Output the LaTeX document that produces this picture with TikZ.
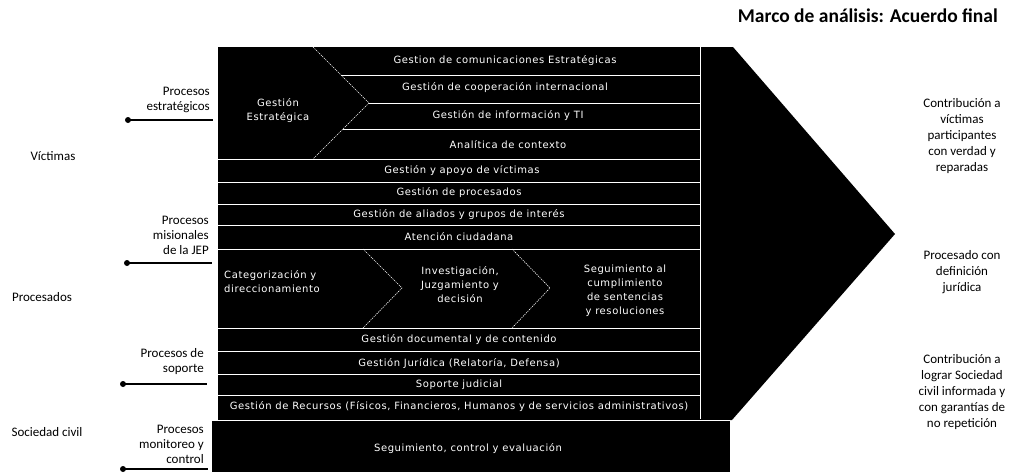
\documentclass[tikz,border=0pt]{standalone}
\usepackage{fontspec}
\setmainfont{Carlito}
\newfontfamily\innerfont[LetterSpace=6]{DejaVu Sans}
\begin{document}
\begin{tikzpicture}[x=1pt,y=-1pt,
  sep/.style={draw=white, line width=0.7pt},
  chev/.style={draw=white, line width=0.6pt, dash pattern=on 1.2pt off 1pt},
  rowtxt/.style={text=white, font=\innerfont\fontsize{10}{14}\selectfont, inner sep=0, align=center},
  lbl/.style={font=\fontsize{13}{15}\selectfont, align=right, anchor=east, inner sep=0},
  side/.style={font=\fontsize{13}{15}\selectfont, inner sep=0},
  outlbl/.style={font=\fontsize{13}{16.2}\selectfont, align=center, inner sep=0},
  leader/.style={line width=1.6pt},
  dotc/.style={circle, fill=black, minimum size=6pt, inner sep=0}]
\useasboundingbox (0,0) rectangle (1011,475);
% title
\node[anchor=east, inner sep=0, font=\bfseries\fontsize{19.5}{20}\selectfont] (title) at (998,16) {Marco de análisis: Acuerdo final};
% main block and arrow
\fill[black] (218,47) -- (733,47) -- (895,234) -- (732,420) -- (218,420) -- cycle;
\fill[black] (212,421) rectangle (730,472);
\draw[sep] (700,47) -- (700,419);
\draw[sep] (212,420.5) -- (730,420.5);
% strategic chevron
\draw[chev] (313,47) -- (369,103) -- (313,159);
\draw[sep] (341,75) -- (700,75);
\draw[sep] (369,103) -- (700,103);
\draw[sep] (342.5,129) -- (700,129);
% full row separators
\foreach \yy in {159,182,204,225,249,328,351,374,395} {\draw[sep] (218,\yy) -- (700,\yy);}
% misional chevrons
\draw[chev] (363,249) -- (402,288) -- (363,328);
\draw[chev] (512,249) -- (550,288) -- (512,328);
% texts inside
\node[rowtxt] (ge) at (278,111) {Gestión\\Estratégica};
\node[rowtxt] (r1) at (505,61) {Gestion de comunicaciones Estratégicas};
\node[rowtxt] (r2) at (505,88) {Gestión de cooperación internacional};
\node[rowtxt] (r3) at (508,116) {Gestión de información y TI};
\node[rowtxt] (r4) at (508,145) {Analítica de contexto};
\node[rowtxt] (r5) at (462,171) {Gestión y apoyo de víctimas};
\node[rowtxt] (r6) at (459,193) {Gestión de procesados};
\node[rowtxt] (r7) at (459,215) {Gestión de aliados y grupos de interés};
\node[rowtxt] (r8) at (459,237) {Atención ciudadana};
\node[rowtxt, align=left, anchor=west] (m1) at (224,282) {Categorización y\\direccionamiento};
\node[rowtxt] (m2) at (460,285) {Investigación,\\Juzgamiento y\\decisión};
\node[rowtxt] (m3) at (625,291) {Seguimiento al\\cumplimiento\\de sentencias\\y resoluciones};
\node[rowtxt] (s1) at (459,340) {Gestión documental y de contenido};
\node[rowtxt] (s2) at (459,363) {Gestión  Jurídica (Relatoría, Defensa)};
\node[rowtxt] (s3) at (459,385) {Soporte judicial};
\node[rowtxt] (s4) at (459,407) {Gestión de Recursos (Físicos, Financieros, Humanos y de servicios administrativos)};
\node[rowtxt] (c1) at (468,449) {Seguimiento, control y evaluación};
% left labels
\node[lbl] (pe) at (210,100) {Procesos\\estratégicos};
\node[lbl] (pm) at (209,235) {Procesos\\misionales\\de la JEP};
\node[lbl] (ps) at (204,362) {Procesos de\\soporte};
\node[lbl] (pc) at (204,444) {Procesos\\monitoreo y\\control};
\coordinate (d1) at (128,120); \coordinate (e1) at (213,120);
\coordinate (d2) at (127,263); \coordinate (e2) at (212,263);
\coordinate (d3) at (123,384); \coordinate (e3) at (207,384);
\coordinate (d4) at (123,469); \coordinate (e4) at (208,469);
\foreach \i in {1,2,3,4} {\draw[leader] (d\i) -- (e\i); \node[dotc] at (d\i) {};}
% far-left actors
\node[side] (vic) at (53,156) {Víctimas};
\node[side] (pro) at (42,297) {Procesados};
\node[side] (soc) at (47,432) {Sociedad civil};
% right outcomes
\node[outlbl] (o1) at (962,136) {Contribución a\\víctimas\\participantes\\con verdad y\\reparadas};
\node[outlbl] (o2) at (962,272) {Procesado con\\definición\\jurídica};
\node[outlbl] (o3) at (962,392) {Contribución a\\lograr Sociedad\\civil informada y\\con garantías de\\no repetición};
\end{tikzpicture}
\end{document}
